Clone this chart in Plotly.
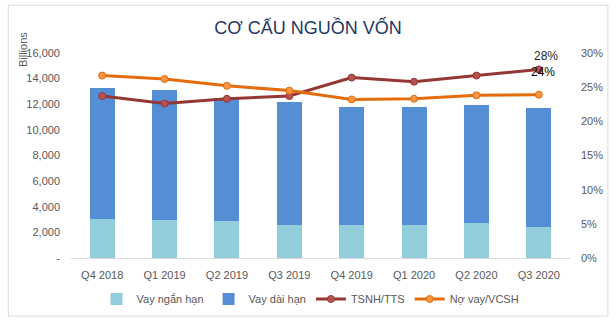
import plotly.graph_objects as go

# Quarterly borrowing structure (billions VND) and ratios
quarters = ["Q4 2018", "Q1 2019", "Q2 2019", "Q3 2019", "Q4 2019", "Q1 2020", "Q2 2020", "Q3 2020"]
short_term = [3060, 2960, 2880, 2570, 2570, 2570, 2730, 2420]
long_term_total = [13300, 13100, 12510, 12150, 11760, 11760, 11910, 11680]
long_term = [t - s for t, s in zip(long_term_total, short_term)]
tsnh_tts = [0.237, 0.226, 0.233, 0.237, 0.264, 0.258, 0.267, 0.276]
no_vay_vcsh = [0.267, 0.262, 0.252, 0.245, 0.232, 0.233, 0.238, 0.239]

left_ticks = [0, 2000, 4000, 6000, 8000, 10000, 12000, 14000, 16000]
left_ticktext = ["-" if v == 0 else f"{v:,}" for v in left_ticks]

FONT = "Liberation Sans"
GRAY = "#595959"

fig = go.Figure()
fig.add_trace(go.Bar(x=quarters, y=short_term, name="Vay ngắn hạn",
                     marker=dict(color="#92CDDC", line=dict(width=0))))
fig.add_trace(go.Bar(x=quarters, y=long_term, name="Vay dài hạn",
                     marker=dict(color="#558ED5", line=dict(width=0))))
fig.add_trace(go.Scatter(x=quarters, y=tsnh_tts, name="TSNH/TTS", yaxis="y2",
                         mode="lines+markers",
                         line=dict(color="#953735", width=3),
                         marker=dict(size=7, color="#B65350", line=dict(color="#953735", width=1))))
fig.add_trace(go.Scatter(x=quarters, y=no_vay_vcsh, name="Nợ vay/VCSH", yaxis="y2",
                         mode="lines+markers",
                         line=dict(color="#E46C0A", width=3),
                         marker=dict(size=7, color="#F79646", line=dict(color="#E46C0A", width=1))))

# value labels on the last quarter
fig.add_annotation(x=quarters[-1], y=tsnh_tts[-1], yref="y2", text=f"{tsnh_tts[-1]:.0%}",
                   showarrow=False, xshift=7, yshift=13,
                   font=dict(family=FONT, size=12, color="#262626"))
fig.add_annotation(x=quarters[-1], y=no_vay_vcsh[-1], yref="y2", text=f"{no_vay_vcsh[-1]:.0%}",
                   showarrow=False, xshift=4, yshift=23,
                   font=dict(family=FONT, size=12, color="#000000"))

# axis title
fig.add_annotation(xref="paper", yref="paper", x=-0.0975, y=1.016, text="Billions",
                   xanchor="center", yanchor="middle",
                   textangle=-90, showarrow=False,
                   font=dict(family=FONT, size=11, color=GRAY))

# chart frame
fig.add_shape(type="rect", xref="paper", yref="paper",
              x0=-0.1256, x1=1.076, y0=-0.2836, y1=1.233,
              line=dict(color="#D9D9D9", width=1), fillcolor="rgba(0,0,0,0)", layer="below")

fig.update_layout(
    width=616, height=325,
    margin=dict(l=71, r=46, t=53, b=65),
    paper_bgcolor="white", plot_bgcolor="white",
    barmode="stack", bargap=0.6,
    title=dict(text="CƠ CẤU NGUỒN VỐN", x=0.5, xanchor="center", y=0.915, yanchor="middle",
               font=dict(family=FONT, size=18, color="#1F3864")),
    font=dict(family=FONT, size=11, color=GRAY),
    xaxis=dict(range=[-0.5, 7.5], showgrid=False, showline=True, linecolor="#D9D9D9",
               linewidth=1, ticks="", tickfont=dict(size=11, color=GRAY), ticklabelstandoff=7),
    yaxis=dict(range=[0, 16000], tickvals=left_ticks, ticktext=left_ticktext,
               showgrid=False, zeroline=False, showline=False, ticks="",
               tickfont=dict(size=11, color=GRAY), ticklabelstandoff=10),
    yaxis2=dict(range=[0, 0.30], overlaying="y", side="right", tickformat=".0%", dtick=0.05,
                showgrid=False, zeroline=False, showline=False, ticks="",
                tickfont=dict(size=11, color=GRAY), ticklabelstandoff=10),
    legend=dict(orientation="h", x=0.48, xanchor="center", y=-0.2, yanchor="middle",
                font=dict(size=11, color=GRAY), traceorder="normal", itemwidth=30),
    showlegend=True,
)

fig.write_html("out.html")
